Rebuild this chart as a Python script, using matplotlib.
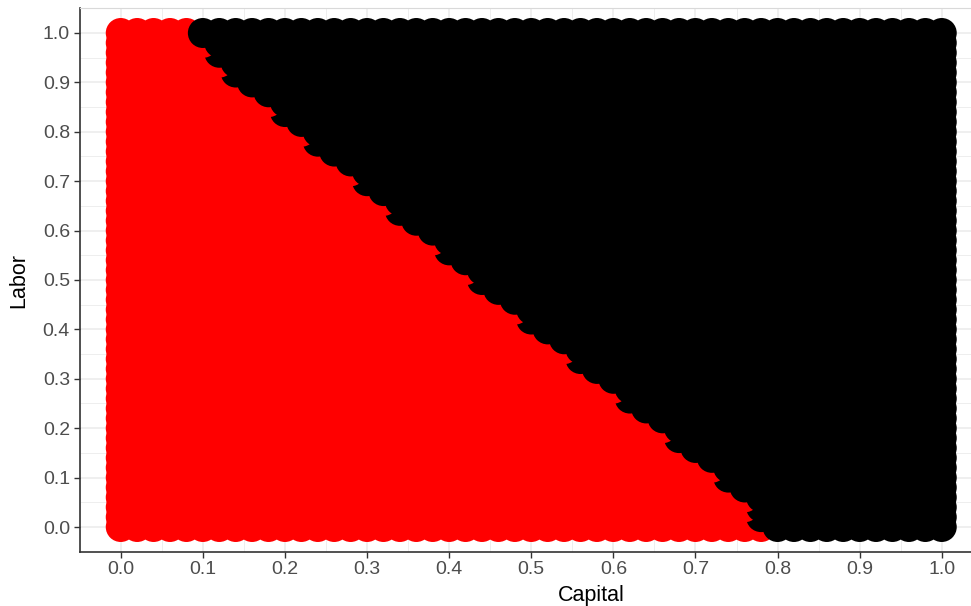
import matplotlib
matplotlib.use("Agg")
import matplotlib.pyplot as plt
from matplotlib.ticker import MultipleLocator, FormatStrFormatter

# grid of input levels (0 to 1 in steps of 0.02)
capital = [0.00, 0.02, 0.04, 0.06, 0.08, 0.10, 0.12, 0.14, 0.16, 0.18,
           0.20, 0.22, 0.24, 0.26, 0.28, 0.30, 0.32, 0.34, 0.36, 0.38,
           0.40, 0.42, 0.44, 0.46, 0.48, 0.50, 0.52, 0.54, 0.56, 0.58,
           0.60, 0.62, 0.64, 0.66, 0.68, 0.70, 0.72, 0.74, 0.76, 0.78,
           0.80, 0.82, 0.84, 0.86, 0.88, 0.90, 0.92, 0.94, 0.96, 0.98, 1.00]
labor = list(capital)

# smallest capital level that is black, for each labor level (bottom to top)
black_from = [0.80, 0.78, 0.78, 0.78, 0.76, 0.74, 0.74, 0.72, 0.70, 0.68,
              0.68, 0.66, 0.64, 0.62, 0.62, 0.60, 0.58, 0.56, 0.56, 0.54,
              0.52, 0.50, 0.50, 0.48, 0.46, 0.44, 0.44, 0.42, 0.40, 0.40,
              0.38, 0.36, 0.34, 0.34, 0.32, 0.30, 0.30, 0.28, 0.26, 0.24,
              0.24, 0.22, 0.20, 0.20, 0.18, 0.16, 0.14, 0.14, 0.12, 0.12, 0.10]

plt.rcParams["font.family"] = ["Liberation Sans", "DejaVu Sans"]

xs, ys, cols = [], [], []
for lab, thr in zip(labor, black_from):
    for cap in capital:
        xs.append(cap)
        ys.append(lab)
        cols.append("black" if cap >= thr - 1e-9 else "red")

fig = plt.figure(figsize=(9.71, 6.06), dpi=100)
W, H = 971, 606
left, right, top, bottom = 79.7, 982.8, 8.3, 551.7
ax = fig.add_axes([left / W, 1 - bottom / H, (right - left) / W, (bottom - top) / H])

ax.scatter(xs, ys, s=466, c=cols, linewidths=0, zorder=3)

ax.set_xlim(-0.05, 1.05)
ax.set_ylim(-0.05, 1.05)
for axis in (ax.xaxis, ax.yaxis):
    axis.set_major_locator(MultipleLocator(0.1))
    axis.set_minor_locator(MultipleLocator(0.05))
    axis.set_major_formatter(FormatStrFormatter("%.1f"))

ax.grid(which="major", color="#EBEBEB", lw=1.1, zorder=0)
ax.grid(which="minor", color="#EBEBEB", lw=0.6, zorder=0)
ax.set_axisbelow(True)

for side in ("left", "bottom"):
    ax.spines[side].set_color("#333333")
    ax.spines[side].set_linewidth(1.2)
ax.spines["top"].set_color("#D9D9D9")
ax.spines["top"].set_linewidth(0.8)
ax.spines["right"].set_visible(False)

ax.tick_params(which="major", length=4, width=1, color="#333333",
               labelsize=14, labelcolor="#4D4D4D", pad=3)
ax.tick_params(which="minor", length=0)

fig.text(591 / W, 1 - 596 / H, "Capital", ha="center", va="center", fontsize=15.5)
fig.text(19 / W, 1 - 281 / H, "Labor", ha="center", va="center",
         rotation=90, fontsize=15.5)

fig.savefig("out.png", dpi=100)
